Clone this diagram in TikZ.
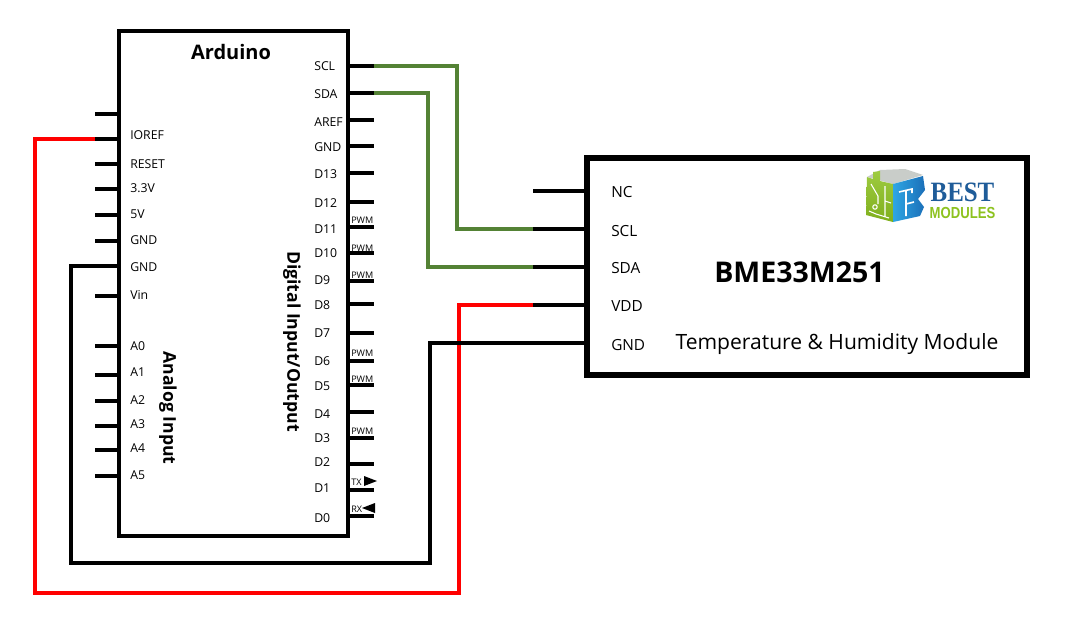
\documentclass[tikz,border=0pt]{standalone}
\usepackage{fontspec}
\setmainfont{Open Sans}
\newfontfamily\logofont{Liberation Serif}
\newfontfamily\modfont{Liberation Sans}
\definecolor{wiregreen}{HTML}{548235}
\definecolor{logoblue}{HTML}{1F5C99}
\definecolor{logodark}{HTML}{1B6FB8}
\definecolor{logolight}{HTML}{2EA6E4}
\definecolor{logogreen}{HTML}{8DC21F}
\definecolor{logogrey}{HTML}{C9CDC9}
\tikzset{
  x=0.75pt,y=-0.75pt,
  chip/.style={draw=black,fill=white,anchor=north west,inner sep=0pt,outer sep=0pt},
  pinl/.style={draw=black,line width=3pt},
  pinm/.style={draw=black,line width=2.4pt},
  wire/.style={line width=2.5pt,line join=miter},
  lab/.style={font=\fontsize{9.2pt}{11pt}\selectfont,inner sep=0pt,anchor=west,yshift=-0.75pt},
  pwm/.style={font=\fontsize{6.8pt}{8pt}\selectfont,inner sep=0pt,anchor=south west},
  modlab/.style={font=\fontsize{11.5pt}{13pt}\selectfont,inner sep=0pt,anchor=west},
  side/.style={font=\bfseries\fontsize{13.2pt}{15pt}\selectfont,inner sep=0pt,rotate=-90},
}
\begin{document}
\begin{tikzpicture}
\useasboundingbox (0,0) rectangle (1075,632);
% Arduino body
\node[chip,line width=3pt,minimum width=171.75pt,minimum height=378.75pt] (ard) at (119,31) {};
\node[font=\bfseries\fontsize{15pt}{18pt}\selectfont,inner sep=0pt] (ardt) at (231,52) {Arduino};
\node[side] (dio) at (292,341.5) {Digital Input/Output};
\node[side] (ain) at (168,408) {Analog Input};
% left pins
\foreach \n/\y/\t/\ly in {ln/114//114,ioref/139/IOREF/134,reset/164/RESET/163,v33/189/3.3V/187,v5/215/5V/213,gnda/241/GND/239,gndb/266/GND/266,vin/296/Vin/294,a0/346/A0/345,a1/375/A1/371,a2/401/A2/399,a3/426/A3/423,a4/450/A4/447,a5/476/A5/474}{
  \coordinate (p\n) at (95,\y);
  \coordinate (q\n) at (119,\y);
  \node[lab] (t\n) at (130,\ly) {\t};
}
\foreach \n in {ln,ioref,reset,v33,v5,gnda,vin,a0,a1,a2,a3,a4,a5}{\draw[pinl] (p\n) -- (q\n);}
% right pins
\foreach \n/\y/\t/\ly in {scl/66/SCL/65,sda/93/SDA/93,aref/120/AREF/121,gndd/146/GND/146,d13/173/D13/173,d12/202/D12/202,d11/227/D11/228,d10/253/D10/252,d9/281/D9/279,d8/304/D8/304,d7/333/D7/332,d6/361/D6/360,d5/385/D5/385,d4/412/D4/413,d3/438/D3/437,d2/464/D2/461,d1/490/D1/487,d0/516/D0/517}{
  \coordinate (p\n) at (349,\y);
  \coordinate (q\n) at (374,\y);
  \draw[pinl] (p\n) -- (q\n);
  \node[lab] (t\n) at (314,\ly) {\t};
}
% PWM / TX / RX
\foreach \n/\y in {a/223.5,b/251.5,c/278.5,d/356.5,e/382.5,f/434.5}{\node[pwm] (pwm\n) at (351,\y) {PWM};}
\node[pwm] (tx) at (351,486) {TX};
\node[pwm] (rx) at (351,513) {RX};
\fill[black] (364,476) -- (377,481) -- (364,486) -- cycle;
\fill[black] (375,503) -- (362,508) -- (375,513) -- cycle;
% Module
\node[chip,line width=4pt,minimum width=330pt,minimum height=162.75pt] (mod) at (587,158) {};
\foreach \n/\y/\t/\ly in {nc/191/NC/192,mscl/229/SCL/231,msda/267/SDA/268,vdd/305/VDD/306,mgnd/343/GND/345}{
  \coordinate (p\n) at (533,\y);
  \coordinate (q\n) at (586,\y);
  \draw[pinm] (p\n) -- (q\n);
  \node[modlab] (t\n) at (611,\ly) {\t};
}
\node[font=\bfseries\fontsize{21.4pt}{25pt}\selectfont,inner sep=0pt] (mname) at (799.5,272) {BME33M251};
\node[font=\fontsize{15.8pt}{19pt}\selectfont,inner sep=0pt] (mdesc) at (837,344) {Temperature \& Humidity Module};
% Logo
\fill[logogrey] (867,177) -- (880,170) -- (905,169) -- (923,175) -- (893,184) -- cycle;
\shade[top color=logogreen!85!white,bottom color=logogreen!90!black] (867,177) -- (873,179) -- (873,172) -- (880,171) -- (880,181) -- (893,184) -- (893,222) -- (866,215) -- cycle;
\shade[left color=logolight,right color=logodark] (893,184) -- (923,176) -- (925,190) -- (918,199) -- (924,207) -- (920,216) -- (893,222) -- cycle;
\draw[white,line width=1.2pt] (899,192) -- (912,189) -- (912,193) (906,191) -- (906,216) (906,204) -- (914,202);
\draw[white,line width=0.8pt] (871,184) -- (878,196) -- (878,204) (875,207) circle (2.2) (885,186) -- (885,201) -- (891,203) (885,201) -- (885,217) (869,211) -- (876,214) -- (889,218);
\node[font=\logofont\bfseries\fontsize{21pt}{24pt}\selectfont,text=logoblue,inner sep=0pt,xscale=0.89] (best) at (962.5,192) {BEST};
\node[font=\modfont\bfseries\fontsize{12pt}{14pt}\selectfont,text=logogreen,inner sep=0pt,xscale=0.82] (modules) at (962.5,213) {MODULES};
% Wires
\draw[wire,wiregreen] (qscl) -| (457,229) -- (pmscl);
\draw[wire,wiregreen] (qsda) -| (428,267) -- (pmsda);
\draw[wire,red] (pioref) -| (35,593) -| (459,305) -- (pvdd);
\draw[wire,black] (qgndb) -| (71,563) -| (430,343) -- (pmgnd);
\end{tikzpicture}
\end{document}
